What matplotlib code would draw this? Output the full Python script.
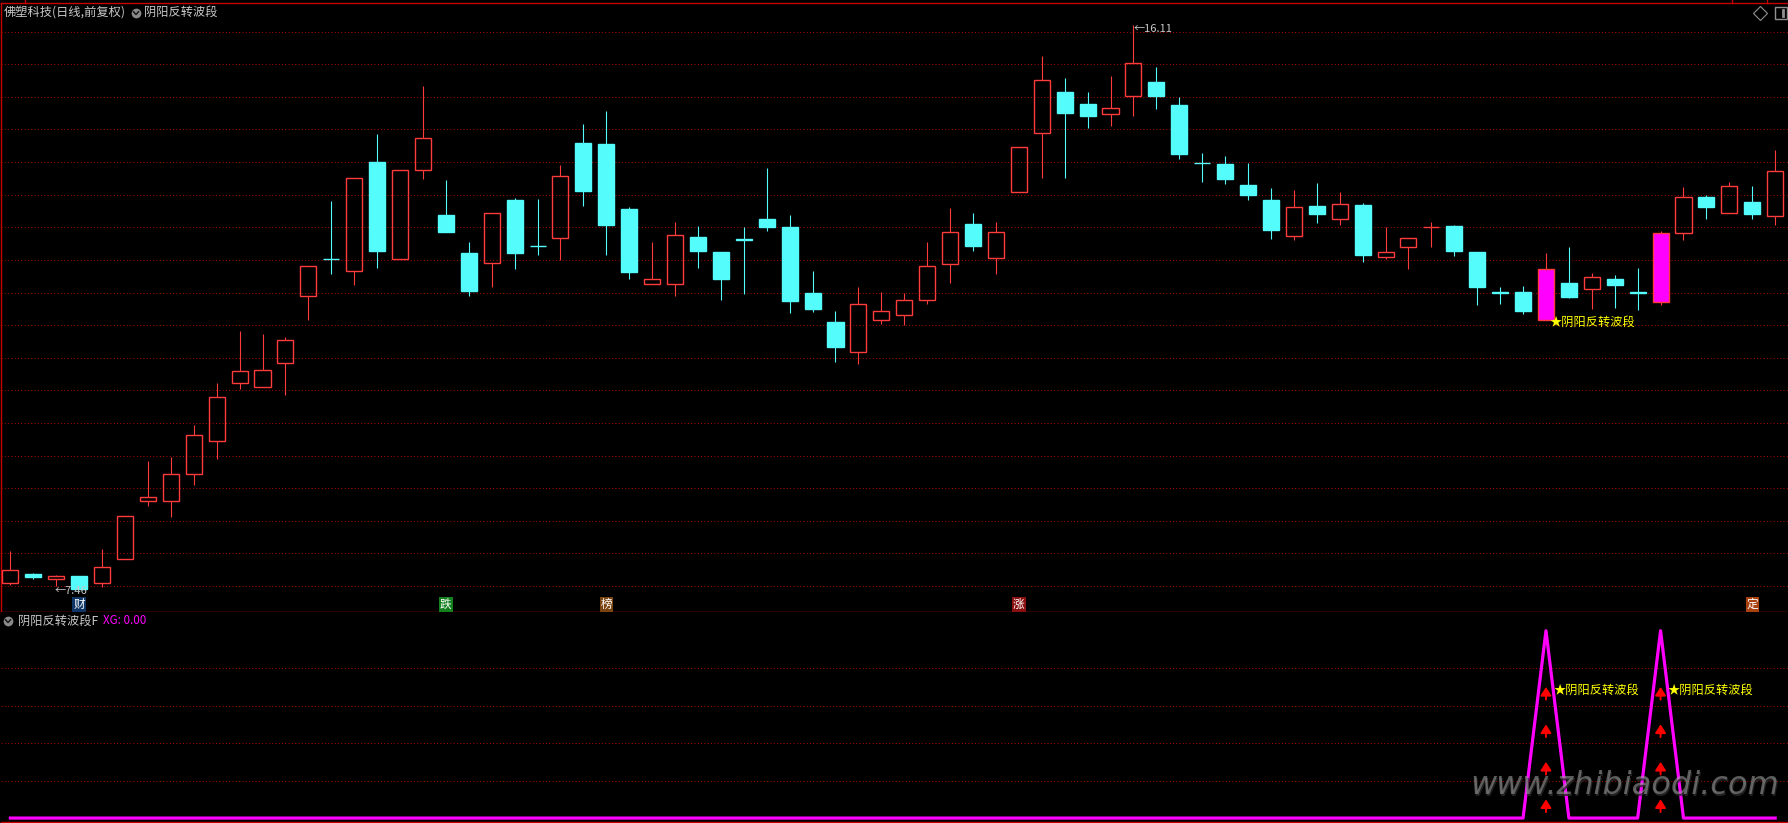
import matplotlib.pyplot as plt
import numpy as np
from matplotlib.patches import Rectangle
from matplotlib.transforms import blended_transform_factory

plt.rcParams['font.family'] = ['Noto Sans CJK SC', 'DejaVu Sans']

# daily bars
opens = [7.54, 7.68, 7.60, 7.65, 7.54, 7.91, 8.80, 8.80, 9.21, 9.72,
         10.61, 10.55, 10.92, 11.95, 12.52, 12.33, 14.00, 12.51, 13.88, 13.19,
         12.61, 12.45, 13.42, 12.72, 12.83, 14.29, 14.28, 13.28, 12.13, 12.13,
         12.85, 12.62, 12.82, 13.13, 13.01, 11.99, 11.55, 11.09, 11.58, 11.65,
         11.88, 12.43, 13.05, 12.53, 13.54, 14.44, 15.08, 14.89, 14.74, 15.01,
         15.23, 14.88, 13.99, 13.97, 13.65, 13.42, 12.87, 13.33, 13.12, 13.34,
         12.54, 12.70, 13.00, 13.02, 12.62, 12.01, 12.01, 11.58, 12.15, 12.05,
         12.21, 12.01, 11.85, 12.91, 13.47, 13.22, 13.39, 13.18]
highs = [8.04, 7.70, 7.66, 7.65, 8.07, 8.57, 9.42, 9.48, 9.97, 10.61,
         11.41, 11.37, 11.31, 12.40, 13.41, 13.75, 14.43, 13.88, 15.17, 13.73,
         12.78, 13.22, 13.45, 13.43, 13.95, 14.58, 14.79, 13.31, 12.77, 13.08,
         13.02, 12.62, 13.00, 13.91, 13.19, 12.33, 11.72, 12.09, 12.01, 11.99,
         12.78, 13.29, 13.22, 13.08, 14.23, 15.63, 15.29, 15.08, 15.32, 16.11,
         15.46, 15.00, 14.14, 14.10, 13.99, 13.60, 13.57, 13.68, 13.54, 13.37,
         13.01, 12.83, 13.08, 13.04, 12.62, 12.08, 12.10, 12.61, 12.70, 12.30,
         12.27, 12.38, 12.95, 13.62, 13.50, 13.69, 13.64, 14.18]
lows = [7.52, 7.60, 7.50, 7.46, 7.49, 7.91, 8.72, 8.55, 9.05, 9.45,
        10.52, 10.55, 10.43, 11.58, 12.29, 12.12, 12.38, 12.51, 13.74, 12.93,
        11.94, 12.08, 12.36, 12.57, 12.50, 13.32, 12.57, 12.21, 12.13, 11.95,
        12.38, 11.89, 11.98, 12.95, 11.69, 11.70, 10.94, 10.91, 11.51, 11.50,
        11.82, 12.15, 12.63, 12.28, 13.54, 13.75, 13.75, 14.53, 14.56, 14.70,
        14.81, 14.05, 13.70, 13.66, 13.42, 12.82, 12.81, 13.07, 13.04, 12.47,
        12.51, 12.36, 12.70, 12.56, 11.81, 11.83, 11.67, 11.58, 11.91, 11.75,
        11.77, 11.73, 11.81, 12.80, 13.13, 13.22, 13.13, 13.03]
closes = [7.74, 7.63, 7.65, 7.46, 7.79, 8.57, 8.86, 9.22, 9.81, 10.39,
          10.79, 10.81, 11.27, 12.40, 12.51, 13.75, 12.63, 13.88, 14.37, 12.93,
          12.03, 13.22, 12.61, 12.71, 13.78, 13.55, 13.03, 12.32, 12.20, 12.88,
          12.63, 12.21, 12.81, 13.00, 11.87, 11.75, 11.16, 11.82, 11.71, 11.88,
          12.40, 12.93, 12.72, 12.93, 14.23, 15.26, 14.76, 14.71, 14.83, 15.52,
          15.02, 14.12, 13.98, 13.74, 13.50, 12.96, 13.31, 13.21, 13.36, 12.58,
          12.62, 12.83, 13.01, 12.64, 12.08, 12.00, 11.72, 12.36, 11.93, 12.24,
          12.11, 12.00, 12.91, 13.47, 13.31, 13.64, 13.20, 13.87]
# 阴阳反转波段F : XG
xg = [0, 0, 0, 0, 0, 0, 0, 0, 0, 0,
      0, 0, 0, 0, 0, 0, 0, 0, 0, 0,
      0, 0, 0, 0, 0, 0, 0, 0, 0, 0,
      0, 0, 0, 0, 0, 0, 0, 0, 0, 0,
      0, 0, 0, 0, 0, 0, 0, 0, 0, 0,
      0, 0, 0, 0, 0, 0, 0, 0, 0, 0,
      0, 0, 0, 0, 0, 0, 0, 1, 0, 0,
      0, 0, 1, 0, 0, 0, 0, 0]

mark_idx = [3, 19, 26, 44, 76]
mark_text = ['财', '跌', '榜', '涨', '定']
main_label_idx = [67]

price_grid = np.arange(7.5, 16.01, 0.5)
signal_grid = [0.2, 0.4, 0.6, 0.8]
arrow_levels = [0.1, 0.3, 0.5, 0.7]

UP = '#ff3b3b'
DOWN = '#54fcfc'
SIG = '#ff00ff'
GRID = '#a80000'
BORDER = '#c80000'
TXT = '#c8c8c8'
mark_colors = {'财': '#0e3566', '跌': '#14801e', '榜': '#7a4410', '涨': '#8a1010', '定': '#a8400f'}

W, H = 1788, 823
fig = plt.figure(figsize=(W / 100, H / 100), dpi=100, facecolor='black')


def frac(x0, y0, x1, y1):
    return [x0 / W, 1 - y1 / H, (x1 - x0) / W, (y1 - y0) / H]


ax = fig.add_axes(frac(1, 3, W, 612))
ax2 = fig.add_axes(frac(1, 612, W, 822))
for a in (ax, ax2):
    a.set_facecolor('black')
    a.set_xlim(-0.41, 77.56)
    a.set_xticks([])
    a.set_yticks([])
    for s in a.spines.values():
        s.set_visible(False)
ax.set_ylim(7.10, 16.44)
ax2.set_ylim(-0.021, 1.10)
for side in ('left', 'top', 'bottom'):
    ax.spines[side].set_visible(True)
    ax.spines[side].set_color(BORDER)
    ax.spines[side].set_linewidth(1.0)
ax2.spines['bottom'].set_visible(True)
ax2.spines['bottom'].set_color(BORDER)
ax2.spines['bottom'].set_linewidth(1.0)

dots = (0, (1, 2.3))
for p in price_grid:
    ax.axhline(p, color=GRID, lw=0.72, ls=dots, zorder=0)
for p in signal_grid:
    ax2.axhline(p, color=GRID, lw=0.72, ls=dots, zorder=0)

# candles
n = len(opens)
x = np.arange(n)
bw = 0.70
for i in range(n):
    o, h, l, c = opens[i], highs[i], lows[i], closes[i]
    lo, hi = min(o, c), max(o, c)
    col = UP if c > o else DOWN
    if xg[i]:
        fc, ec = SIG, UP
    elif c > o:
        fc, ec = 'none', UP
    else:
        fc, ec = DOWN, DOWN
    ax.vlines(i, l, lo, color=col, lw=0.8, zorder=2)
    ax.vlines(i, hi, h, color=col, lw=0.8, zorder=2)
    ax.add_patch(Rectangle((i - bw / 2, lo), bw, hi - lo, facecolor=fc,
                           edgecolor=ec, lw=1.0, zorder=3))

# high / low tags
ih = int(np.argmax(highs))
il = int(np.argmin(lows))
ax.annotate(f'←{highs[ih]:.2f}', xy=(ih, highs[ih]), xytext=(0, -3),
            textcoords='offset points', color=TXT, fontsize=8, ha='left', va='center')
ax.annotate(f'←{lows[il]:.2f}', xy=(il - 1, lows[il]), xytext=(-1, -2),
            textcoords='offset points', color=TXT, fontsize=8, ha='left', va='center')

# event tags under the bars
tr = blended_transform_factory(ax.transData, ax.transAxes)
for i, t in zip(mark_idx, mark_text):
    ax.text(i, 0.013, t, transform=tr, color='white', fontsize=8.4, ha='center', va='center',
            bbox=dict(boxstyle='square,pad=0.08', fc=mark_colors[t], ec='none'), zorder=5)

for i in main_label_idx:
    ax.annotate('★阴阳反转波段', xy=(i, lows[i]), xytext=(2.5, -1.7), textcoords='offset points',
                color='#ffff00', fontsize=8.8, ha='left', va='center', zorder=6)

# lower panel
ax2.plot(x, xg, color=SIG, lw=2.3, zorder=3)
for i in np.flatnonzero(xg):
    for lv in arrow_levels:
        ax2.annotate('', xy=(i, lv), xytext=(i, lv - 0.068),
                     arrowprops=dict(arrowstyle='-|>,head_width=0.32,head_length=0.5',
                                     color='#ff0000', lw=1.4, shrinkA=0, shrinkB=0), zorder=4)
    ax2.annotate('★阴阳反转波段', xy=(i, 0.7), xytext=(5.3, -2.7), textcoords='offset points',
                 color='#ffff00', fontsize=8.8, ha='left', va='center', zorder=5)

# overlay in pixel coordinates for the header and decorations
ov = fig.add_axes([0, 0, 1, 1], zorder=10)
ov.set_xlim(0, W)
ov.set_ylim(H, 0)
ov.axis('off')
ov.patch.set_alpha(0)

for tx in (25, 1732, 1767):
    ov.plot([tx, tx], [0, 3], color=BORDER, lw=1.0)


def chevron_icon(cx, cy):
    ov.plot(cx, cy, 'o', ms=7, color='#8a8a8a', mec='none')
    ov.plot([cx - 2.5, cx, cx + 2.5], [cy - 1.2, cy + 1.5, cy - 1.2], color='#1a1a1a', lw=1.1)


ov.text(4, 12, '佛塑科技(日线,前复权)', color=TXT, fontsize=8.8, va='center', ha='left')
chevron_icon(136, 13)
ov.text(144, 12, '阴阳反转波段', color=TXT, fontsize=8.8, va='center', ha='left')
ov.plot(1760, 13, 'D', ms=7, mfc='none', mec='#909090', mew=0.8)
ov.plot(1781, 13, 's', ms=8, mfc='none', mec='#909090', mew=1.0)
ov.plot([1783, 1783], [10, 16], color='#909090', lw=2)

chevron_icon(8, 621)
ov.text(18, 621, '阴阳反转波段F', color=TXT, fontsize=8.8, va='center', ha='left')
ov.text(103, 621, f'XG: {xg[-1]:.2f}', color=SIG, fontsize=8.4, va='center', ha='left')

ov.text(1626, 788, 'www.zhibiaodi.com', color='#2a2a2a', alpha=0.8, fontsize=23,
        style='italic', family='DejaVu Sans', ha='center', va='center')
ov.text(1625, 786, 'www.zhibiaodi.com', color='#9a9a9a', alpha=0.6, fontsize=23,
        style='italic', family='DejaVu Sans', ha='center', va='center')

fig.savefig('out.png', dpi=100, facecolor='black')
